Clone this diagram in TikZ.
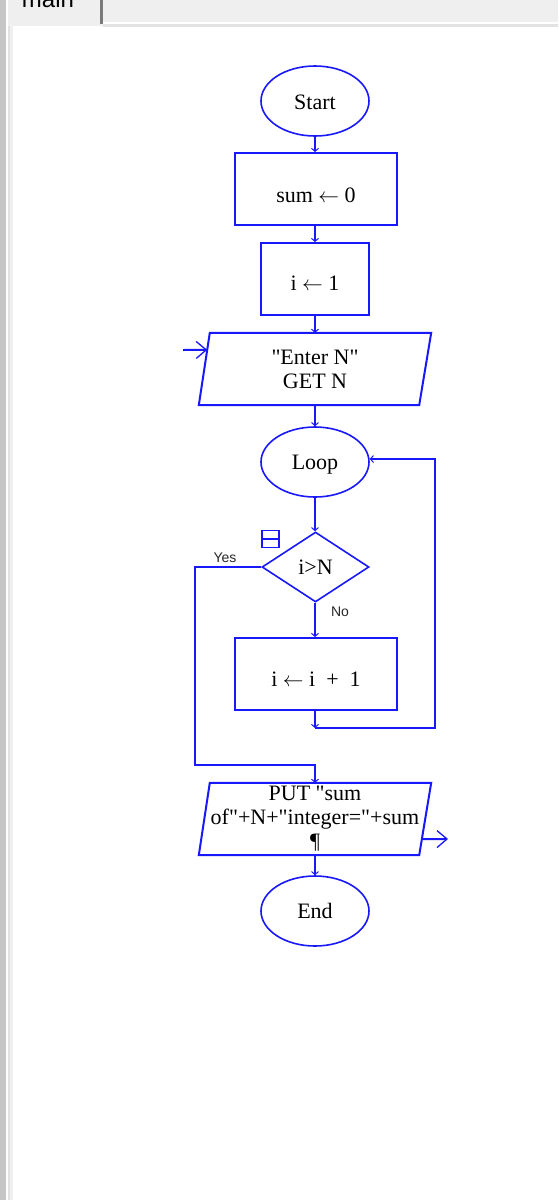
\documentclass[tikz,border=0pt]{standalone}
\usepackage{fontspec}
\setmainfont{Liberation Serif}[Ligatures=TeXOff]
\newfontfamily\labelfont{Liberation Sans}
\usetikzlibrary{arrows.meta,shapes.geometric,calc}
\definecolor{fcblue}{RGB}{24,24,250}
\definecolor{stripgray}{RGB}{198,198,198}
\definecolor{panelgray}{RGB}{239,239,239}
\definecolor{tabline}{RGB}{122,122,122}
\definecolor{sepgray}{RGB}{226,226,226}
\definecolor{labelgray}{RGB}{40,40,40}
\newcommand{\lowered}[2]{\raisebox{#1}[\height][\depth]{#2}}
\begin{document}
\begin{tikzpicture}[x=1pt,y=-1pt,
  every node/.style={font=\fontsize{22}{24}\selectfont},
  term/.style={ellipse,draw=fcblue,line width=1.6pt,minimum width=108pt,minimum height=70pt,inner sep=0pt},
  proc/.style={rectangle,draw=fcblue,line width=2pt,inner sep=0pt,minimum height=72pt},
  io/.style={rectangle,draw=none,minimum width=232pt,minimum height=72pt,inner sep=0pt,align=center},
  shapeline/.style={draw=fcblue,line width=2pt,line join=miter},
  decision/.style={diamond,draw=fcblue,line width=1.6pt,minimum width=107pt,minimum height=70pt,inner sep=0pt,aspect=1.5},
  conn/.style={draw=fcblue,line width=2pt},
  tip/.style={-{Straight Barb[length=3pt,width=7pt,line width=1pt]}},
  bigtip/.style={-{Straight Barb[length=10pt,width=17pt,line width=1.3pt]}},
  branchlabel/.style={font=\labelfont\fontsize{14}{14}\selectfont,text=labelgray,inner sep=0pt}]
\useasboundingbox (0,0) rectangle (558,1200);
\clip (0,0) rectangle (558,1200);
% window background
\fill[white] (0,0) rectangle (558,1200);
\fill[stripgray] (0,0) rectangle (6,1200);
\fill[sepgray] (8,0) rectangle (10,1200);
\fill[panelgray] (10,0) rectangle (13,1200);
\fill[panelgray] (8,0) rectangle (558,26);
\fill[white] (103,22) rectangle (558,23.5);
\fill[sepgray] (103,24) rectangle (558,26.5);
\fill[tabline] (100,0) rectangle (103,24);
\node[font=\labelfont\fontsize{24}{24}\selectfont,anchor=base,inner sep=0pt] (tab) at (48,7) {main};

% nodes
\node[term] (start) at (315,101) {\lowered{-1pt}{Start}};
\node[proc,minimum width=162pt] (sum) at (316,189) {\lowered{-6pt}{sum $\leftarrow$ 0}};
\node[proc,minimum width=108pt] (ione) at (315,279) {\lowered{-4pt}{i $\leftarrow$ 1}};
\node[io] (inp) at (315,369) {\fontsize{22}{26}\selectfont "Enter N"\\GET N};
\draw[shapeline] ([xshift=11pt]inp.north west) -- (inp.north east) -- ([xshift=-12pt]inp.south east) -- (inp.south west) -- cycle;
\node[term] (loop) at (315,462) {\lowered{-3pt}{Loop}};
\node[decision] (dec) at (315.5,567) {i>N};
\node[draw=fcblue,line width=1.5pt,minimum width=17pt,minimum height=17pt,inner sep=0pt] (icon) at (270.5,539) {};
\draw[fcblue,line width=1.5pt] (icon.west) -- (icon.east);
\node[branchlabel] (yes) at (225,558) {Yes};
\node[branchlabel] (no) at (340,612) {No};
\node[proc,minimum width=162pt] (inc) at (316,674) {\lowered{-5pt}{i $\leftarrow$ i\ \ +\ \ 1}};
\node[io] (out) at (315,819) {\fontsize{22}{22.5}\selectfont PUT "sum\\of"+N+"integer="+sum\\¶};
\draw[shapeline] ([xshift=11pt]out.north west) -- (out.north east) -- ([xshift=-12pt]out.south east) -- (out.south west) -- cycle;
\node[term] (end) at (315,911) {End};

% helper coordinates
\coordinate (inS) at (183,350);
\coordinate (j) at (315,728);
\coordinate (rt) at (435,459);
\coordinate (ycorner) at (195,765);
\coordinate (outE) at (448,839);

% connectors
\draw[conn,tip] (start.south) -- (start.south |- sum.north);
\draw[conn,tip] (start.south |- sum.south) -- (start.south |- ione.north);
\draw[conn,tip] (ione.south) -- (ione.south |- inp.north);
\draw[conn,bigtip] (inS) -- ($([xshift=11pt]inp.north west)!0.236!(inp.south west)$);
\draw[conn,tip] (inp.south) -- (loop.north);
\draw[conn,tip] (loop.south) -- (loop.south |- dec.north);
\draw[conn,tip] (loop.south |- dec.south) -- (loop.south |- inc.north);
\draw[conn,tip] (loop.south |- inc.south) -- (j);
\draw[conn,tip] (j) -| (rt) -- (rt -| loop.east);
\draw[conn,tip] (dec.west) -| (ycorner) -- (ycorner -| out.north) -- (out.north);
\draw[conn,tip] (out.south) -- (end.north);
\draw[conn,bigtip] ($(out.north east)!0.778!([xshift=-12pt]out.south east)$) -- (outE);
\end{tikzpicture}
\end{document}
